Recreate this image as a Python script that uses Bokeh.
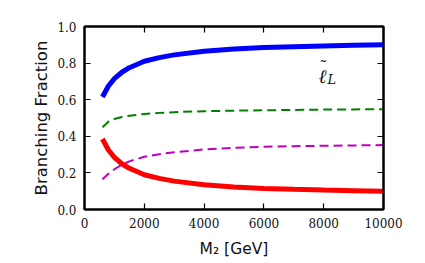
from bokeh.plotting import figure
from bokeh.models import Range1d, LinearAxis, Label, FixedTicker
from bokeh.embed import file_html
from bokeh.resources import INLINE

mass = [600, 800, 1000, 1250, 1500, 2000, 2500, 3000, 4000, 5000, 6000, 7000, 8000, 9000, 10000]
br_blue = [0.615, 0.675, 0.715, 0.75, 0.775, 0.81, 0.83, 0.845, 0.865, 0.877, 0.885, 0.89, 0.894, 0.897, 0.90]
br_red = [0.385, 0.325, 0.285, 0.25, 0.225, 0.19, 0.17, 0.155, 0.135, 0.123, 0.115, 0.11, 0.106, 0.103, 0.10]
br_green = [0.45, 0.48, 0.495, 0.505, 0.512, 0.522, 0.528, 0.532, 0.537, 0.540, 0.542, 0.544, 0.546, 0.547, 0.548]
br_magenta = [0.165, 0.195, 0.22, 0.245, 0.263, 0.288, 0.302, 0.313, 0.328, 0.337, 0.343, 0.346, 0.348, 0.35, 0.352]
x_ticks = [0, 2000, 4000, 6000, 8000, 10000]
y_ticks = [0.0, 0.2, 0.4, 0.6, 0.8, 1.0]
y_tick_labels = {0.0: "0.0", 0.2: "0.2", 0.4: "0.4", 0.6: "0.6", 0.8: "0.8", 1.0: "1.0"}

p = figure(width=409, height=260, output_backend="svg", toolbar_location=None,
           x_range=Range1d(0, 10000), y_range=Range1d(0, 1),
           min_border_left=84, min_border_right=26, min_border_top=26, min_border_bottom=49,
           x_axis_location=None, y_axis_location=None)
p.grid.visible = False
p.outline_line_color = "black"
p.outline_line_width = 2

serif = "DejaVu Serif"

def style_axis(ax):
    ax.axis_line_width = 2
    ax.axis_line_color = "black"
    ax.major_tick_in = 6
    ax.major_tick_out = 0
    ax.major_tick_line_width = 1.2
    ax.minor_tick_line_color = None
    ax.major_label_text_font = serif
    ax.major_label_text_font_size = "12px"
    ax.major_label_text_color = "#111111"

xb = LinearAxis(ticker=FixedTicker(ticks=x_ticks))
style_axis(xb)
xb.major_label_standoff = 8
xb.axis_label = "M₂ [GeV]"
xb.axis_label_text_font = "DejaVu Sans"
xb.axis_label_text_font_style = "normal"
xb.axis_label_text_font_size = "15.5px"
xb.axis_label_text_color = "#111111"
xb.axis_label_standoff = 9
p.add_layout(xb, "below")
xt = LinearAxis(ticker=FixedTicker(ticks=x_ticks), major_label_overrides={t: "" for t in x_ticks})
style_axis(xt)
p.add_layout(xt, "above")

yl = LinearAxis(ticker=FixedTicker(ticks=y_ticks), major_label_overrides=y_tick_labels)
style_axis(yl)
yl.major_label_standoff = 8
yl.axis_label = "Branching Fraction"
yl.axis_label_text_font = "DejaVu Sans"
yl.axis_label_text_font_style = "normal"
yl.axis_label_text_font_size = "16.5px"
yl.axis_label_text_color = "#111111"
yl.axis_label_standoff = 3
p.add_layout(yl, "left")
yr = LinearAxis(ticker=FixedTicker(ticks=y_ticks), major_label_overrides={t: "" for t in y_ticks})
style_axis(yr)
p.add_layout(yr, "right")

p.line(mass, br_green, line_color="#008000", line_width=2, line_dash="9 5")
p.line(mass, br_magenta, line_color="#bf00bf", line_width=2, line_dash="9 5")
p.line(mass, br_blue, line_color="#0000ff", line_width=5)
p.line(mass, br_red, line_color="#ff0000", line_width=5)

# curve label: l-tilde with subscript L
p.add_layout(Label(x=7826, y=0.732, text="ℓ",
                   text_font=serif, text_font_style="italic", text_font_size="19px",
                   text_baseline="alphabetic", text_color="#111111"))
p.add_layout(Label(x=7860, y=0.775, text="˜",
                   text_font=serif, text_font_size="16px",
                   text_baseline="alphabetic", text_color="#111111"))
p.add_layout(Label(x=8127, y=0.71, text="L",
                   text_font=serif, text_font_style="italic", text_font_size="13px",
                   text_baseline="alphabetic", text_color="#111111"))

open("out.html", "w").write(file_html(p, INLINE))
